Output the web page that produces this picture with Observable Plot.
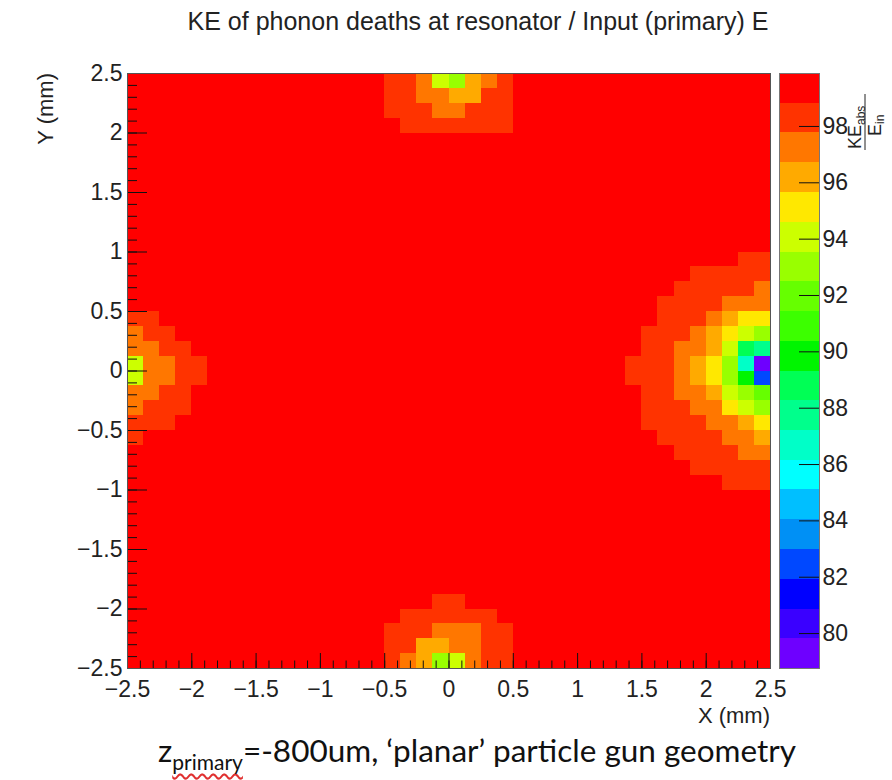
<!DOCTYPE html>
<html><head><meta charset="utf-8">
<script src="https://cdn.jsdelivr.net/npm/d3@7"></script>
<script src="https://cdn.jsdelivr.net/npm/@observablehq/plot@0.6"></script>
<style>
body{margin:0;background:#fff;}
#wrap{position:relative;width:892px;height:780px;overflow:hidden;font-family:"Liberation Sans",Arial,sans-serif;color:#222;}
.abs{position:absolute;white-space:nowrap;}
#caption sub{font-size:21px;vertical-align:-8px;text-decoration:underline wavy #e03030;text-underline-offset:3px;}
</style></head><body>
<div id="wrap">
  <div class="abs" id="title" style="left:0;width:956px;top:7px;text-align:center;font-size:25px;">KE of phonon deaths at resonator / Input (primary) E</div>
  <div class="abs" id="main" style="left:0;top:0;"></div>
  <div class="abs" id="cbar" style="left:770px;top:0;"></div>
  <svg class="abs" style="left:0;top:0" width="120" height="200">
    <text transform="translate(53,73) rotate(-90)" text-anchor="end" font-size="22" fill="#222" font-family="Liberation Sans, Arial, sans-serif">Y (mm)</text>
  </svg>
  <svg class="abs" style="left:640px;top:694px" width="140" height="40">
    <text x="130" y="29" text-anchor="end" font-size="22" fill="#222" font-family="Liberation Sans, Arial, sans-serif">X (mm)</text>
  </svg>
  <svg class="abs" style="left:838px;top:82px" width="54" height="84">
    <g transform="translate(27,68) rotate(-90)" font-family="Liberation Sans, Arial, sans-serif" fill="#222">
      <text x="1" y="-4" font-size="18">KE<tspan font-size="12" dy="4">abs</tspan></text>
      <line x1="0" x2="56" y1="0" y2="0" stroke="#222" stroke-width="1"/>
      <text x="14" y="16" font-size="18">E<tspan font-size="12" dy="3">in</tspan></text>
    </g>
  </svg>
  <div class="abs" id="caption" style="left:158px;top:731px;font-family:Lato,'Open Sans',sans-serif;font-size:31.5px;color:#111;">z<sub>primary</sub>=-800um, ‘planar’ particle gun geometry</div>
</div>
<script>
// ---- histogram binning (40 x 40 bins over the 5 mm x 5 mm face) ----
const xRange = [-2.5, 2.5];
const yRange = [-2.5, 2.5];
const nBins = 40;

// value of nearly all bins (top colour band)
const background = 99.4;

// non-background bins as runs: [row (0 = bottom), firstCol, lastCol (0 = left), KE_abs/E_in]
const topSpot = [
  [39,16,17,98.3],[39,18,18,97.2],[39,19,19,94.1],[39,20,20,93.0],[39,21,21,96.2],[39,22,22,97.2],[39,23,23,98.3],
  [38,16,17,98.3],[38,18,19,97.2],[38,20,21,96.2],[38,22,23,98.3],
  [37,16,18,98.3],[37,19,20,97.2],[37,21,23,98.3],
  [36,17,23,98.3]
];
const bottomSpot = [
  [4,19,20,98.3],
  [3,17,22,98.3],
  [2,16,18,98.3],[2,19,21,97.2],[2,22,23,98.3],
  [1,16,17,98.3],[1,18,19,96.2],[1,20,21,97.2],[1,22,23,98.3],
  [0,16,16,98.3],[0,17,17,97.2],[0,18,18,96.2],[0,19,19,93.0],[0,20,20,94.1],[0,21,21,97.2],[0,22,23,98.3]
];
const leftSpot = [
  [23,0,1,98.3],
  [22,0,0,97.2],[22,1,2,98.3],
  [21,0,1,97.2],[21,2,3,98.3],
  [20,0,0,94.1],[20,1,2,97.2],[20,3,4,98.3],
  [19,0,0,94.1],[19,1,2,97.2],[19,3,4,98.3],
  [18,0,1,97.2],[18,2,3,98.3],
  [17,0,0,97.2],[17,1,3,98.3],
  [16,0,2,98.3],
  [15,0,0,98.3]
];
const rightSpot = [
  [27,38,39,98.3],
  [26,35,39,98.3],
  [25,34,38,98.3],[25,39,39,97.2],
  [24,33,36,98.3],[24,37,39,97.2],
  [23,33,35,98.3],[23,36,36,97.2],[23,37,37,96.2],[23,38,39,95.1],
  [22,32,34,98.3],[22,35,35,97.2],[22,36,36,96.2],[22,37,37,95.1],[22,38,38,94.1],[22,39,39,93.0],
  [21,32,33,98.3],[21,34,35,97.2],[21,36,36,96.2],[21,37,37,94.1],[21,38,38,88.8],[21,39,39,87.7],
  [20,31,33,98.3],[20,34,34,97.2],[20,35,35,96.2],[20,36,36,95.1],[20,37,37,93.0],[20,38,38,86.7],[20,39,39,78.8],
  [19,31,33,98.3],[19,34,34,97.2],[19,35,35,96.2],[19,36,36,95.1],[19,37,37,93.0],[19,38,38,89.9],[19,39,39,82.5],
  [18,32,33,98.3],[18,34,35,97.2],[18,36,36,96.2],[18,37,37,94.1],[18,38,38,93.0],[18,39,39,92.0],
  [17,32,34,98.3],[17,35,36,97.2],[17,37,37,95.1],[17,38,38,94.1],[17,39,39,93.0],
  [16,32,35,98.3],[16,36,37,97.2],[16,38,38,96.2],[16,39,39,95.1],
  [15,33,36,98.3],[15,37,38,97.2],[15,39,39,96.2],
  [14,34,37,98.3],[14,38,39,97.2],
  [13,35,39,98.3],
  [12,37,39,98.3]
];

// colour contours (20 bands) and palette, bottom to top
const levels = [78.76, 79.82, 80.87, 81.93, 82.98, 84.04, 85.10, 86.15, 87.21, 88.26, 89.32,
                90.38, 91.43, 92.49, 93.54, 94.60, 95.66, 96.71, 97.77, 98.82, 99.88];
const palette = ["#6e00ff","#3a00ff","#0000ff","#0048ff","#0090f5","#00bfff","#00ffff","#00ffc8",
                 "#00ff8c","#00ff55","#00f500","#3cff00","#66ff00","#99ff00","#ccff00","#ffe800",
                 "#ffaa00","#ff7700","#ff3300","#ff0000"];

// tick positions / labels
const xMajor = [-2.5,-2,-1.5,-1,-0.5,0,0.5,1,1.5,2,2.5];
const yMajor = [-2.5,-2,-1.5,-1,-0.5,0,0.5,1,1.5,2,2.5];
const cbTicks = [80,82,84,86,88,90,92,94,96,98];

// ---- build the grid ----
const bw = (xRange[1]-xRange[0])/nBins;
const bh = (yRange[1]-yRange[0])/nBins;
const grid = [];
for (let j = 0; j < nBins; j++) for (let i = 0; i < nBins; i++) grid.push({i, j, z: background});
for (const [row, c0, c1, z] of [...topSpot, ...bottomSpot, ...leftSpot, ...rightSpot])
  for (let i = c0; i <= c1; i++) grid[row*nBins + i].z = z;

const minor = d3.ticks(-2.5, 2.5, 50);
const fmt = d => d < 0 ? "\u2212" + Math.abs(d) : String(d);
const colorScale = {type: "threshold", domain: levels.slice(1, -1), range: palette};

const W = 800, H = 720, mL = 127, mR = 30, mT = 73, mB = 52;
const fW = W - mL - mR, fH = H - mT - mB;

const main = Plot.plot({
  width: W, height: H,
  marginLeft: mL, marginRight: mR, marginTop: mT, marginBottom: mB,
  style: {fontSize: "23px", fontFamily: "Liberation Sans, Arial, sans-serif", color: "#222", background: "transparent"},
  x: {domain: xRange, ticks: xMajor, tickSize: 0, tickPadding: 12, tickFormat: fmt, label: null},
  y: {domain: yRange, ticks: yMajor, tickSize: 0, tickPadding: 5, tickFormat: fmt, label: null},
  color: colorScale,
  marks: [
    Plot.rect(grid, {
      x1: d => xRange[0] + d.i*bw, x2: d => xRange[0] + (d.i+1)*bw,
      y1: d => yRange[0] + d.j*bh, y2: d => yRange[0] + (d.j+1)*bh,
      fill: "z", shapeRendering: "crispEdges"
    }),
    Plot.ruleX(minor, {insetTop: fH - 7.5, stroke: "#111"}),
    Plot.ruleX(xMajor, {insetTop: fH - 15, stroke: "#111"}),
    Plot.ruleY(minor, {insetRight: fW - 10, stroke: "#111"}),
    Plot.ruleY(yMajor, {insetRight: fW - 20, stroke: "#111"}),
    Plot.frame({stroke: "#555"})
  ]
});
document.getElementById("main").appendChild(main);

const bands = palette.map((c, k) => ({lo: levels[k], hi: levels[k+1], mid: (levels[k]+levels[k+1])/2}));
const cbar = Plot.plot({
  width: 122, height: H,
  marginLeft: 9, marginRight: 73, marginTop: mT, marginBottom: mB,
  style: {fontSize: "23px", fontFamily: "Liberation Sans, Arial, sans-serif", color: "#222", background: "transparent"},
  y: {domain: [levels[0], levels[levels.length-1]], ticks: cbTicks, axis: "right", tickSize: 0, tickPadding: 3, label: null},
  color: colorScale,
  marks: [
    Plot.rect(bands, {y1: "lo", y2: "hi", fill: "mid", shapeRendering: "crispEdges"}),
    Plot.ruleY(cbTicks, {insetLeft: 20, stroke: "#111"}),
    Plot.frame({stroke: "#777"})
  ]
});
document.getElementById("cbar").appendChild(cbar);
</script>
</body></html>
